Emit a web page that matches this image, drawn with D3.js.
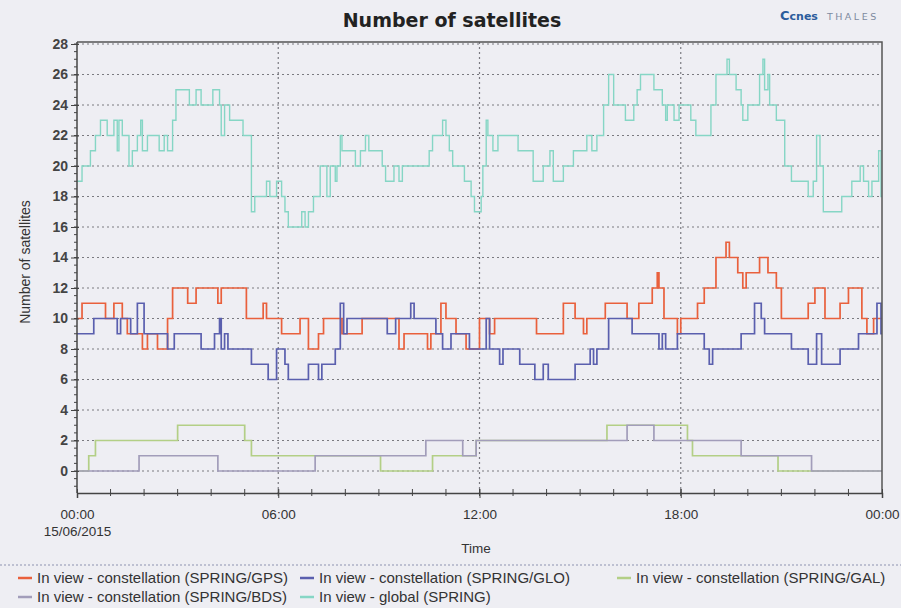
<!DOCTYPE html>
<html>
<head>
<meta charset="utf-8">
<script src="https://cdn.jsdelivr.net/npm/d3@7"></script>
<style>
  body { margin: 0; background: #eeeef3; }
  svg { display: block; }
</style>
</head>
<body>
<svg id="chart" width="901" height="608"></svg>
<script>
// step series, [hour, value] change points
var gps = [[0,10],[0.15,11],[0.85,10],[1.1,11],[1.35,10],[1.5,9],[1.95,8],[2.1,9],[2.4,8],[2.7,10],[2.85,12],[3.3,11],[3.55,12],[4.2,11],[4.3,12],[5.05,10],[5.55,11],[5.65,10],[6.1,9],[6.65,10],[6.9,8],[7.2,9],[7.35,10],[7.9,9],[8.5,10],[9.6,8],[9.75,9],[10.45,8],[10.55,9],[10.85,11],[11.0,10],[11.3,9],[11.6,8],[12.0,10],[12.3,9],[12.45,10],[13.7,9],[14.5,11],[14.85,10],[15.1,9],[15.2,10],[15.75,11],[16.4,10],[16.75,11],[17.15,12],[17.3,13],[17.35,12],[17.5,10],[17.9,9],[18.0,10],[18.5,11],[18.7,12],[19.05,14],[19.35,15],[19.45,14],[19.7,13],[19.85,12],[19.95,13],[20.35,14],[20.6,13],[20.85,12],[21.0,10],[21.8,11],[22.0,12],[22.3,10],[22.75,11],[23.0,12],[23.4,10],[23.55,9],[23.75,10]];
var glo = [[0,9],[0.5,10],[1.2,9],[1.3,10],[1.6,9],[1.8,11],[2.0,9],[2.7,8],[2.9,9],[3.7,8],[4.1,9],[4.25,10],[4.3,8],[4.4,9],[4.5,8],[5.2,7],[5.7,6],[5.95,8],[6.2,7],[6.3,6],[6.9,7],[7.2,6],[7.3,7],[7.7,8],[7.85,11],[7.95,9],[8.05,10],[9.25,9],[9.5,10],[9.95,11],[10.05,10],[10.7,9],[10.9,8],[11.15,9],[11.7,8],[12.2,10],[12.3,8],[12.6,7],[12.7,8],[13.2,7],[13.65,6],[13.9,7],[14.05,6],[14.85,7],[15.3,8],[15.4,7],[15.5,8],[15.85,10],[16.55,9],[17.35,8],[17.45,9],[17.55,8],[17.9,9],[18.7,8],[18.85,7],[18.95,8],[19.8,9],[20.2,11],[20.4,10],[20.5,9],[21.3,8],[21.8,7],[22.05,9],[22.2,7],[22.75,8],[23.3,9],[23.85,11],[23.97,9]];
var gal = [[0,0],[0.35,1],[0.55,2],[3.0,3],[5.0,2],[5.2,1],[9.05,0],[10.6,1],[11.9,2],[15.8,3],[18.2,2],[18.35,1],[20.9,0]];
var bds = [[0,0],[1.85,1],[4.2,0],[7.1,1],[10.4,2],[11.5,1],[11.9,2],[16.4,3],[17.2,2],[19.8,1],[21.9,0]];
var global = [[0,19],[0.15,20],[0.4,21],[0.55,22],[0.7,23],[0.9,22],[1.1,23],[1.2,21],[1.25,23],[1.35,22],[1.55,20],[1.65,21],[1.8,22],[1.9,23],[1.95,21],[2.1,22],[2.45,21],[2.6,22],[2.7,21],[2.85,23],[2.95,25],[3.35,24],[3.55,25],[3.7,24],[4.05,25],[4.25,24],[4.3,22],[4.4,24],[4.55,23],[4.95,22],[5.2,17],[5.3,18],[5.65,19],[5.75,18],[5.95,19],[6.1,18],[6.2,17],[6.3,16],[6.7,17],[6.8,16],[6.9,17],[7.05,18],[7.25,20],[7.45,18],[7.55,20],[7.7,19],[7.75,20],[7.85,22],[7.9,21],[8.3,20],[8.45,21],[8.6,22],[8.7,21],[9.1,20],[9.2,19],[9.45,20],[9.6,19],[9.7,20],[10.5,21],[10.6,22],[10.9,23],[11.0,22],[11.1,21],[11.2,20],[11.55,19],[11.75,18],[11.85,17],[12.05,18],[12.1,20],[12.2,23],[12.25,22],[12.4,21],[12.55,22],[13.15,21],[13.6,19],[13.9,20],[14.1,21],[14.2,19],[14.5,20],[14.8,21],[15.2,22],[15.35,21],[15.5,22],[15.7,24],[15.85,26],[16.0,24],[16.35,23],[16.6,24],[16.7,25],[16.8,26],[17.2,25],[17.45,24],[17.55,23],[17.6,24],[17.8,23],[17.95,24],[18.3,23],[18.45,22],[18.9,24],[19.05,26],[19.38,27],[19.45,26],[19.65,25],[19.8,24],[19.85,23],[20.0,24],[20.35,26],[20.45,27],[20.5,25],[20.6,26],[20.65,24],[20.85,23],[21.1,20],[21.3,19],[21.8,18],[21.95,19],[22.05,22],[22.15,20],[22.25,17],[22.8,18],[23.1,19],[23.35,20],[23.45,19],[23.6,18],[23.7,19],[23.9,21],[23.97,18]];

var seriesNames = ["In view - constellation (SPRING/GPS)", "In view - constellation (SPRING/GLO)", "In view - constellation (SPRING/GAL)", "In view - constellation (SPRING/BDS)", "In view - global (SPRING)"];
var seriesColors = ["#e9603c", "#5a5fae", "#b3cf86", "#a29dba", "#86d6c5"];
var seriesData = [gps, glo, gal, bds, global];

var hourTicks = [0, 6, 12, 18, 24];
var hourLabels = ["00:00", "06:00", "12:00", "18:00", "00:00"];
var yTicks = d3.range(0, 29, 2);

var svg = d3.select("#chart");
// note: "top" is taken by window.top, so plotTop
var plotLeft = 77, plotRight = 882, plotTop = 42, plotBottom = 493;

var x = d3.scaleLinear().domain([0, 24]).range([plotLeft, plotRight]);
var y = d3.scaleLinear().domain([0, 28]).range([471, 44]);

svg.append("rect").attr("width", 901).attr("height", 608).attr("fill", "#eeeef3");

// title + logo
svg.append("text").attr("x", 452).attr("y", 27).attr("text-anchor", "middle")
  .style("font-family", "DejaVu Sans").style("font-weight", "bold").style("font-size", "19px")
  .attr("fill", "#222").text("Number of satellites");
var logo = svg.append("text").attr("x", 780).attr("y", 20)
  .style("font-family", "DejaVu Sans").style("font-size", "11px");
logo.append("tspan").attr("fill", "#2b5c9c").style("font-weight", "bold").style("font-size", "13px").text("C");
logo.append("tspan").attr("fill", "#2b5c9c").style("font-weight", "bold").text("cnes");
logo.append("tspan").attr("dx", 9).attr("fill", "#7d8aa0").style("letter-spacing", "2.5px").style("font-size", "9.5px").text("THALES");

// grid
var grid = svg.append("g").attr("stroke", "#7a7a80").attr("stroke-dasharray", "2,3").attr("stroke-width", 1.2);
grid.selectAll(".h").data(yTicks).enter().append("line").attr("class", "h")
  .attr("x1", plotLeft).attr("x2", plotRight)
  .attr("y1", function(d){ return y(d); }).attr("y2", function(d){ return y(d); });
grid.selectAll(".v").data([6, 12, 18]).enter().append("line").attr("class", "v")
  .attr("y1", plotTop).attr("y2", plotBottom)
  .attr("x1", function(d){ return x(d); }).attr("x2", function(d){ return x(d); });

// series
var line = d3.line()
  .x(function(d){ return x(d[0]); })
  .y(function(d){ return y(d[1]); })
  .curve(d3.curveStepAfter);
seriesData.forEach(function(s, i){
  var pts = s.concat([[24, s[s.length - 1][1]]]);
  svg.append("path").datum(pts)
    .attr("fill", "none")
    .attr("stroke", seriesColors[i])
    .attr("stroke-width", i == 4 ? 1.4 : 1.7)
    .attr("d", line);
});

// frame
svg.append("path").attr("d", "M" + plotLeft + "," + plotTop + "H" + plotRight + "V" + plotBottom)
  .attr("fill", "none").attr("stroke", "#555").attr("stroke-width", 1.5);

// y axis
var yAxis = d3.axisLeft(y).tickValues(yTicks).tickSize(6).tickPadding(3);
var gy = svg.append("g").attr("transform", "translate(" + plotLeft + ",0)").call(yAxis);
gy.select(".domain").remove();
gy.append("line").attr("y1", plotTop).attr("y2", plotBottom).attr("stroke", "#444").attr("stroke-width", 1.5);
gy.selectAll(".minor").data(d3.range(-1, 28.1, 0.5)).enter().append("line").attr("class", "minor")
  .attr("x1", -3).attr("x2", 0)
  .attr("y1", function(d){ return y(d); }).attr("y2", function(d){ return y(d); })
  .attr("stroke", "#444");
gy.selectAll(".tick line").attr("stroke", "#444").attr("x2", -6).attr("x1", 2);
gy.selectAll(".tick text").style("font-family", "Liberation Sans, Arial").style("font-size", "14px")
  .style("font-weight", "bold").attr("fill", "#444");

// x axis
var xAxis = d3.axisBottom(x).tickValues(hourTicks).tickFormat(function(d, i){ return hourLabels[i]; })
  .tickSize(5).tickPadding(11);
var gx = svg.append("g").attr("transform", "translate(0," + plotBottom + ")").call(xAxis);
gx.select(".domain").attr("stroke", "#444").attr("stroke-width", 1.5);
gx.selectAll(".tick line").attr("stroke", "#444").attr("y1", -4);
gx.selectAll(".minor").data(d3.range(1, 24)).enter().append("line").attr("class", "minor")
  .attr("x1", function(d){ return x(d); }).attr("x2", function(d){ return x(d); })
  .attr("y1", -4).attr("y2", 3).attr("stroke", "#444");
gx.selectAll(".tick text").style("font-family", "Liberation Sans, Arial").style("font-size", "13.5px")
  .attr("fill", "#333");
gx.select(".tick text").append("tspan").attr("x", 0).attr("dy", "1.3em").text("15/06/2015");

svg.append("text").attr("x", 476).attr("y", 553).attr("text-anchor", "middle")
  .style("font-family", "Liberation Sans, Arial").style("font-size", "13.5px").attr("fill", "#333").text("Time");
svg.append("text").attr("transform", "translate(30,262) rotate(-90)").attr("text-anchor", "middle")
  .style("font-family", "Liberation Sans, Arial").style("font-size", "14px").attr("fill", "#333")
  .text("Number of satellites");

// legend
svg.append("line").attr("x1", 0).attr("x2", 901).attr("y1", 565).attr("y2", 565)
  .attr("stroke", "#8d92b0").attr("stroke-dasharray", "2,2");
var legendPos = [[18, 583], [300, 583], [617, 583], [18, 602], [300, 602]];
var lg = svg.selectAll(".lg").data(seriesNames).enter().append("g")
  .attr("transform", function(d, i){ return "translate(" + legendPos[i][0] + "," + legendPos[i][1] + ")"; });
lg.append("line").attr("x1", 0).attr("x2", 14).attr("y1", -5).attr("y2", -5)
  .attr("stroke", function(d, i){ return seriesColors[i]; }).attr("stroke-width", 2.5);
lg.append("text").attr("x", 19)
  .style("font-family", "Liberation Sans, Arial").style("font-size", "15px").attr("fill", "#333")
  .text(function(d){ return d; });
</script>
</body>
</html>
